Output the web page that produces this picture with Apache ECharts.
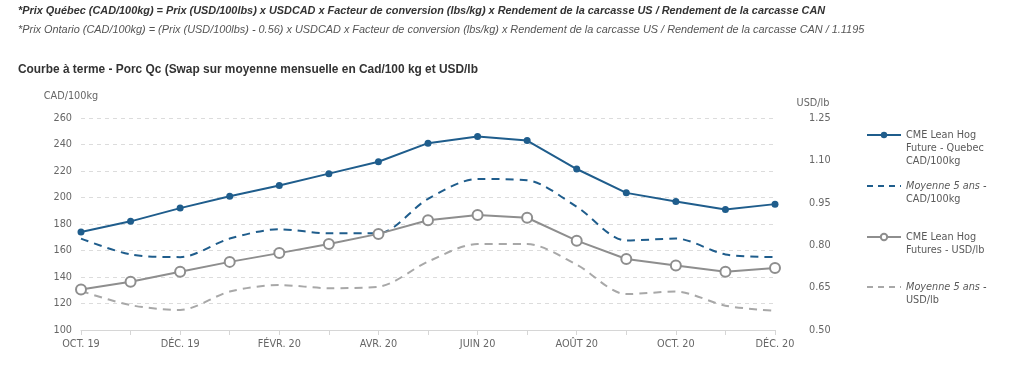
<!DOCTYPE html>
<html>
<head>
<meta charset="utf-8">
<script src="https://cdn.jsdelivr.net/npm/echarts@6/dist/echarts.min.js"></script>
<style>
html,body{margin:0;padding:0;background:#fff;}
#chart{width:1024px;height:376px;}
</style>
</head>
<body>
<div id="chart"></div>
<script>
const categories = ['OCT. 19','NOV. 19','DÉC. 19','JANV. 20','FÉVR. 20','MARS 20','AVR. 20','MAI 20','JUIN 20','JUIL. 20','AOÛT 20','SEPT. 20','OCT. 20','NOV. 20','DÉC. 20'];
const quebecCad = [174,182,192,201,209,218,227,241,246,243,221.5,203.5,197,191,195];
const avg5Cad = [169,157,155,169,176,173,173,199,214,213,193,167.5,169,157,155];
const usdCme = [0.643,0.671,0.706,0.741,0.772,0.804,0.840,0.888,0.907,0.897,0.816,0.751,0.728,0.706,0.719];
const avg5Usd = [0.638,0.588,0.571,0.636,0.659,0.648,0.653,0.742,0.804,0.804,0.731,0.627,0.636,0.586,0.568];
const seriesNames = ['CME Lean Hog Future - Quebec CAD/100kg','Moyenne 5 ans - CAD/100kg','CME Lean Hog Futures - USD/lb','Moyenne 5 ans - USD/lb'];
const legendLines = [
  ['CME Lean Hog','Future - Quebec','CAD/100kg'],
  ['{i|Moyenne 5 ans -}','CAD/100kg'],
  ['CME Lean Hog','Futures - USD/lb'],
  ['{i|Moyenne 5 ans -}','USD/lb']
];
const titleLines = [
  '*Prix Québec (CAD/100kg) = Prix (USD/100lbs) x USDCAD x Facteur de conversion (lbs/kg) x Rendement de la carcasse US / Rendement de la carcasse CAN',
  '*Prix Ontario (CAD/100kg) = (Prix (USD/100lbs) - 0.56) x USDCAD x Facteur de conversion (lbs/kg) x Rendement de la carcasse US / Rendement de la carcasse CAN / 1.1195',
  'Courbe à terme - Porc Qc (Swap sur moyenne mensuelle en Cad/100 kg et USD/lb'
];

const BLUE = '#1f5d8c';
const GRAY = '#8e8e8e';
const LGRAY = '#a8a8a8';
const AXF = 'DejaVu Sans Condensed';

const legendTops = [102.5, 166.5, 217.5, 267.5];
const dashedLegend = [false, true, false, true];
const legends = seriesNames.map((n, i) => {
  const lg = {
    data: [n],
    orient: 'vertical',
    left: 866,
    top: legendTops[i],
    padding: 0,
    itemWidth: 34,
    itemHeight: 8,
    textStyle: {
      fontFamily: AXF, fontSize: 10.8, color: '#5a5a5a', lineHeight: 13,
      rich: { i: { fontStyle: 'italic', fontFamily: AXF, fontSize: 10.8, color: '#5a5a5a', lineHeight: 13 } }
    },
    formatter: () => {
      const l = legendLines[i];
      return Array(l.length - 1).fill('').concat(l).join('\n');
    }
  };
  if (dashedLegend[i]) {
    lg.itemStyle = { opacity: 0 };
    lg.lineStyle = { type: [6, 5] };
  }
  return lg;
});

const chart = echarts.init(document.getElementById('chart'), null, {renderer: 'canvas'});
chart.setOption({
  animation: false,
  backgroundColor: '#fff',
  title: [
    { text: titleLines[0], left: 18, top: 5, padding: 0,
      textStyle: { fontFamily: 'Liberation Sans', fontSize: 10.9, fontWeight: 'bold', fontStyle: 'italic', color: '#333' } },
    { text: titleLines[1], left: 18, top: 24, padding: 0,
      textStyle: { fontFamily: 'Liberation Sans', fontSize: 10.9, fontWeight: 'normal', fontStyle: 'italic', color: '#555' } },
    { text: titleLines[2], left: 18, top: 64, padding: 0,
      textStyle: { fontFamily: 'Liberation Sans', fontSize: 11.9, fontWeight: 'bold', color: '#333' } }
  ],
  legend: legends,
  grid: { left: 81, right: 249, top: 118, bottom: 46 },
  xAxis: {
    type: 'category',
    data: categories,
    boundaryGap: false,
    axisLine: { lineStyle: { color: '#d6d6d6', width: 1 } },
    axisTick: { show: true, interval: 0, length: 5, lineStyle: { color: '#d6d6d6' } },
    axisLabel: { interval: 1, margin: 9, fontFamily: AXF, fontSize: 10.8, color: '#666' }
  },
  yAxis: [
    {
      type: 'value', min: 100, max: 260, interval: 20,
      name: 'CAD/100kg', nameLocation: 'end', nameGap: 16,
      nameTextStyle: { fontFamily: AXF, fontSize: 10.8, color: '#666', align: 'center', padding: [0, 0, 0, -20] },
      axisLine: { show: false }, axisTick: { show: false },
      axisLabel: { margin: 9, fontFamily: AXF, fontSize: 10.8, color: '#666' },
      splitLine: { show: true, lineStyle: { color: '#dcdcdc', type: [4, 4] } }
    },
    {
      type: 'value', min: 0.5, max: 1.25, interval: 0.15,
      name: 'USD/lb', nameLocation: 'end', nameGap: 9,
      nameTextStyle: { fontFamily: AXF, fontSize: 10.8, color: '#666', align: 'center', padding: [0, 0, 0, 76] },
      axisLine: { show: false }, axisTick: { show: false },
      axisLabel: { margin: 34, fontFamily: AXF, fontSize: 10.8, color: '#666', formatter: v => v.toFixed(2) },
      splitLine: { show: false }
    }
  ],
  series: [
    {
      name: seriesNames[0], type: 'line', yAxisIndex: 0, data: quebecCad,
      symbol: 'circle', symbolSize: 7, showSymbol: true,
      lineStyle: { color: BLUE, width: 2 }, itemStyle: { color: BLUE }, z: 5
    },
    {
      name: seriesNames[1], type: 'line', yAxisIndex: 0, data: avg5Cad,
      symbol: 'none', smooth: 0.3,
      lineStyle: { color: BLUE, width: 2, type: [8, 6] }, itemStyle: { color: BLUE }, z: 3
    },
    {
      name: seriesNames[2], type: 'line', yAxisIndex: 1, data: usdCme,
      symbol: 'circle', symbolSize: 10,
      lineStyle: { color: GRAY, width: 2 },
      itemStyle: { color: '#fff', borderColor: GRAY, borderWidth: 2 }, z: 4
    },
    {
      name: seriesNames[3], type: 'line', yAxisIndex: 1, data: avg5Usd,
      symbol: 'none', smooth: 0.3,
      lineStyle: { color: LGRAY, width: 2, type: [8, 6] }, itemStyle: { color: LGRAY }, z: 2
    }
  ]
});
</script>
</body>
</html>
